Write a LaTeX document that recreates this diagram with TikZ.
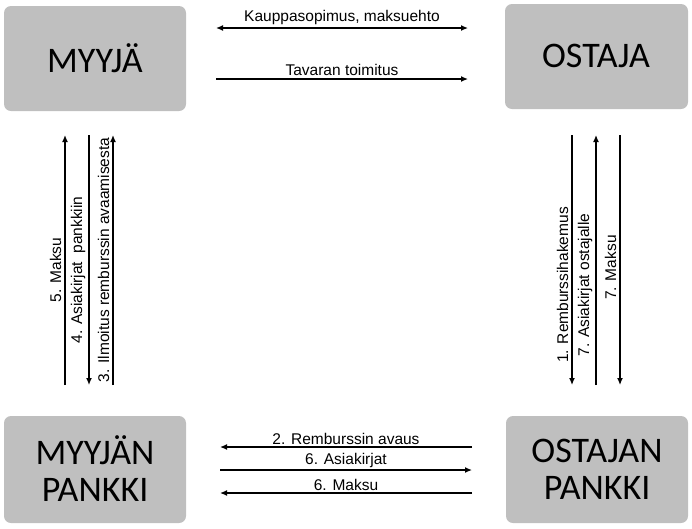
\documentclass[tikz,border=0pt]{standalone}
\usepackage{fontspec}
\setmainfont{Liberation Sans}
\newfontfamily\boxfont{Carlito}
\usetikzlibrary{arrows.meta}
\begin{document}
\begin{tikzpicture}[x=1pt,y=-1pt,
  party/.style={fill=black!25,rounded corners=7pt},
  ptext/.style={align=center,font=\boxfont\fontsize{36}{37}\selectfont},
  flow/.style={line width=1.3pt,-{Latex[length=7pt,width=6pt]}},
  lbl/.style={font=\fontsize{15.5}{17}\selectfont,inner sep=1pt}]
\useasboundingbox (0,0) rectangle (692,528);
\fill[party] (4,6) rectangle (186,111);
\node[ptext] (m) at (95,58) {MYYJÄ};
\fill[party] (505,4) rectangle (688,109);
\node[ptext] (o) at (596,56) {OSTAJA};
\fill[party] (4,416) rectangle (186,523);
\node[ptext] (mp) at (95,469) {MYYJÄN\\PANKKI};
\fill[party] (506,416) rectangle (688,523);
\node[ptext] (op) at (597,469) {OSTAJAN\\PANKKI};
% top
\coordinate (a1) at (216,28); \coordinate (a2) at (468,28);
\draw[flow,{Latex[length=7pt,width=6pt]}-{Latex[length=7pt,width=6pt]}] (a1) -- node[lbl,above=2pt] {Kauppasopimus, maksuehto} (a2);
\coordinate (b1) at (216,79); \coordinate (b2) at (468,79);
\draw[flow] (b1) -- node[lbl,above=2pt] {Tavaran toimitus} (b2);
% bottom
\coordinate (c1) at (472,447); \coordinate (c2) at (220,447);
\draw[flow] (c1) -- node[lbl,above=1pt] {2. Remburssin avaus} (c2);
\coordinate (d1) at (220,470); \coordinate (d2) at (472,470);
\draw[flow] (d1) -- node[lbl,above=1pt] {6. Asiakirjat} (d2);
\coordinate (e1) at (472,493); \coordinate (e2) at (220,493);
\draw[flow] (e1) -- node[lbl,above=1pt] {6. Maksu} (e2);
% left
\coordinate (l1a) at (65,385); \coordinate (l1b) at (65,135);
\draw[flow] (l1a) -- node[lbl,rotate=90,above=2pt,pos=0.46] {5. Maksu} (l1b);
\coordinate (l2a) at (89,135); \coordinate (l2b) at (89,385);
\draw[flow] (l2a) -- node[lbl,rotate=90,above=2pt,pos=0.54] {4. Asiakirjat\ \ pankkiin} (l2b);
\coordinate (l3a) at (113,385); \coordinate (l3b) at (113,135);
\draw[flow] (l3a) -- node[lbl,rotate=90,above=2pt,pos=0.5] {3. Ilmoitus remburssin avaamisesta} (l3b);
% right
\coordinate (r1a) at (572,135); \coordinate (r1b) at (572,385);
\draw[flow] (r1a) -- node[lbl,rotate=90,above=2pt,pos=0.6] {1. Remburssihakemus} (r1b);
\coordinate (r2a) at (596,385); \coordinate (r2b) at (596,135);
\draw[flow] (r2a) -- node[lbl,rotate=90,above=2pt,pos=0.4] {7. Asiakirjat ostajalle} (r2b);
\coordinate (r3a) at (620,135); \coordinate (r3b) at (620,385);
\draw[flow] (r3a) -- node[lbl,rotate=90,above=2pt,pos=0.53] {7. Maksu} (r3b);
\end{tikzpicture}
\end{document}
